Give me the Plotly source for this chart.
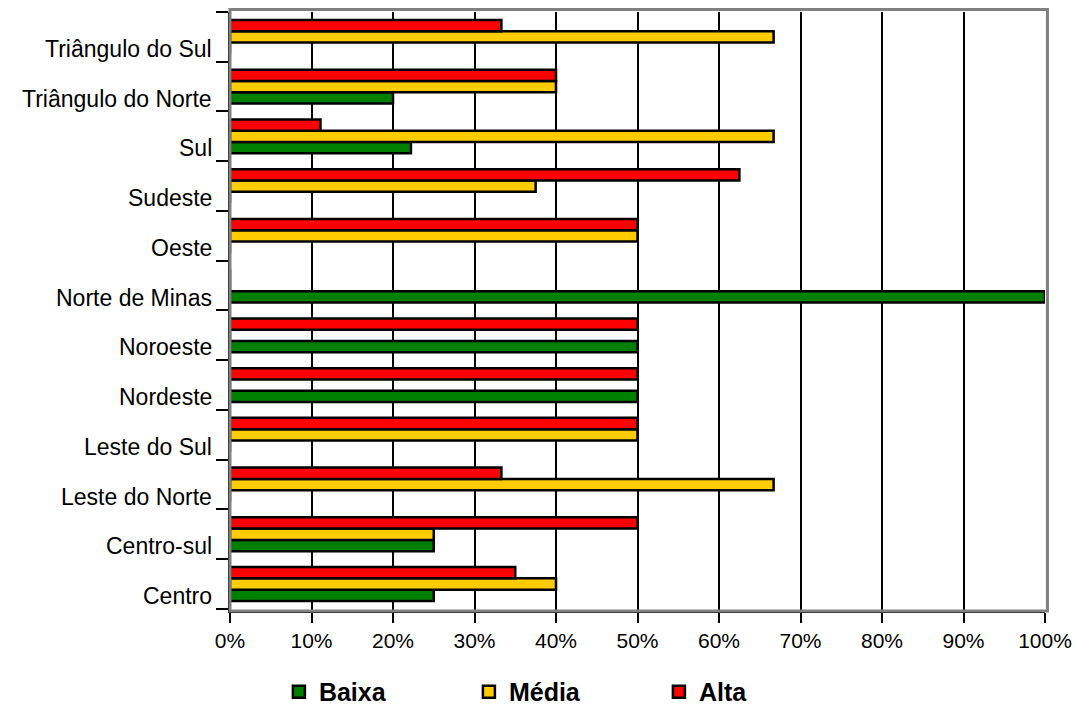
import plotly.graph_objects as go

categories = ["Centro", "Centro-sul", "Leste do Norte", "Leste do Sul", "Nordeste",
              "Noroeste", "Norte de Minas", "Oeste", "Sudeste", "Sul",
              "Triângulo do Norte", "Triângulo do Sul"]
baixa = [25, 25, 0, 0, 50, 50, 100, 0, 0, 22.2, 20, 0]
media = [40, 25, 66.7, 50, 0, 0, 0, 50, 37.5, 66.7, 40, 66.7]
alta = [35, 50, 33.3, 50, 50, 50, 0, 50, 62.5, 11.1, 40, 33.3]
x_ticks = list(range(0, 101, 10))
x_tick_text = [f"{v}%" for v in x_ticks]

series = [("Baixa", baixa, "#008000"), ("Média", media, "#FFCC00"), ("Alta", alta, "#FF0000")]

fig = go.Figure()
for name, vals, color in series:
    fig.add_trace(go.Bar(
        y=categories, x=vals, name=name, orientation="h",
        marker=dict(color=color, line=dict(color="#000000", width=2.5)),
    ))

for c in categories:
    fig.add_annotation(x=0, xref="paper", y=c, yref="y", text=c, showarrow=False,
                       xanchor="right", yanchor="middle", xshift=-16, yshift=-12,
                       font=dict(family="Liberation Sans, Arial", size=23, color="#000"))

fig.add_shape(type="rect", xref="paper", yref="paper", x0=0, y0=0, x1=1.003, y1=1.004,
              line=dict(color="#808080", width=3), layer="above")

fig.update_layout(
    width=1079, height=709,
    margin=dict(l=230, r=34, t=12, b=98, autoexpand=False),
    paper_bgcolor="white", plot_bgcolor="white",
    barmode="group", bargap=0.32, bargroupgap=0,
    font=dict(family="Liberation Sans, Arial", size=20, color="#000"),
    xaxis=dict(range=[0, 100], tickvals=x_ticks, ticktext=x_tick_text,
               showgrid=True, gridcolor="#000000", gridwidth=2,
               ticks="outside", ticklen=10, tickwidth=2, tickcolor="#000",
               showline=True, linecolor="#000", linewidth=2, zeroline=False,
               tickfont=dict(size=21)),
    yaxis=dict(type="category", categoryorder="array", categoryarray=categories,
               showticklabels=False, ticks="outside", ticklen=12, tickwidth=2,
               tickcolor="#000", tickson="boundaries", showline=True,
               linecolor="#000", linewidth=2, showgrid=False),
    legend=dict(orientation="h", x=0.06, xanchor="left", y=0.024, yref="container",
                yanchor="middle",
                traceorder="normal", entrywidth=145, entrywidthmode="pixels",
                font=dict(family="Liberation Sans, Arial", size=25, color="#000", weight="bold")),
    showlegend=True,
)

fig.write_html("out.html")
